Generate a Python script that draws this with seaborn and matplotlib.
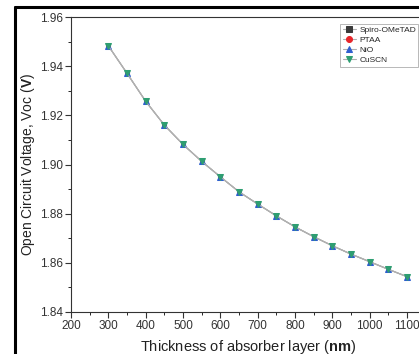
import matplotlib
matplotlib.use('Agg')
import matplotlib.pyplot as plt
from matplotlib.lines import Line2D
import numpy as np
import pandas as pd
import seaborn as sns

# 数据
thickness = [300, 350, 400, 450, 500, 550, 600, 650, 700, 750, 800, 850, 900, 950, 1000, 1050, 1100]
voc = [1.9484, 1.9372, 1.9258, 1.9161, 1.9082, 1.9013, 1.8950, 1.8889, 1.8839, 1.8791,
       1.8746, 1.8706, 1.8669, 1.8635, 1.8604, 1.8573, 1.8543]
htl = ['Spiro-OMeTAD', 'PTAA', 'NiO', 'CuSCN']
colors = ['#3a3a3a', '#e8262b', '#2f5fcf', '#2e9e72']
markers = ['s', 'o', '^', 'v']
msizes = [2.6, 2.8, 4.6, 4.6]  # 重叠的点，方块和圆被三角盖住

sns.set_style('ticks')
plt.rcParams['font.family'] = ['Liberation Sans', 'DejaVu Sans']
plt.rcParams['mathtext.fontset'] = 'custom'
plt.rcParams['mathtext.bf'] = 'Liberation Sans:bold'
plt.rcParams['mathtext.rm'] = 'Liberation Sans'

fig = plt.figure(figsize=(4.19, 3.54), dpi=100)
# 轴比图宽，右边被裁掉
ax = fig.add_axes([71 / 419, 1 - 311.7 / 354, 354.5 / 419, 294.4 / 354])

for name, c, m, ms in zip(htl, colors, markers, msizes):
    df = pd.DataFrame({'x': thickness, 'y': voc})
    sns.lineplot(data=df, x='x', y='y', ax=ax, color='#b0b0b0', lw=0.8,
                 marker=m, markersize=ms, markerfacecolor=c, markeredgecolor=c,
                 label=name)

ax.set_xlim(200, 1150)
ax.set_ylim(1.84, 1.96)
ax.set_xticks(np.arange(200, 1101, 100))
ax.set_xticks(np.arange(250, 1150, 100), minor=True)
ax.set_yticks(np.arange(1.84, 1.961, 0.02))
ax.set_yticks(np.arange(1.85, 1.96, 0.02), minor=True)
ax.yaxis.set_major_formatter(matplotlib.ticker.FormatStrFormatter('%.2f'))
ax.tick_params(which='major', direction='out', length=4, width=0.8, labelsize=8.5, pad=2, colors='#333333')
ax.tick_params(which='minor', direction='out', length=2.5, width=0.7)
for s in ax.spines.values():
    s.set_linewidth(0.8)
    s.set_color('#333333')

ax.set_xlabel(r'Thickness of absorber layer ($\mathbf{nm}$)', fontsize=10.5, labelpad=4, color='#222222')
ax.set_ylabel(r'Open Circuit Voltage, Voc ($\mathbf{V}$)', fontsize=10, labelpad=2, color='#222222')

leg = ax.legend(loc='upper left', bbox_to_anchor=(340 / 419, 1 - 24 / 354),
                bbox_transform=fig.transFigure, fontsize=6, frameon=True,
                fancybox=False, edgecolor='#999999', handlelength=1.6,
                labelspacing=0.25, borderpad=0.3, handletextpad=0.4, borderaxespad=0)
leg.get_frame().set_linewidth(0.6)
for h in leg.legend_handles:
    h.set_markersize(4.3)

# 外面的黑框
fig.add_artist(Line2D([15 / 419, 15 / 419], [0, 1 - 7 / 354], color='black', lw=2.2, transform=fig.transFigure))
fig.add_artist(Line2D([15 / 419, 1], [1 - 7 / 354, 1 - 7 / 354], color='black', lw=2.2, transform=fig.transFigure))

fig.savefig('out.png', dpi=100)
